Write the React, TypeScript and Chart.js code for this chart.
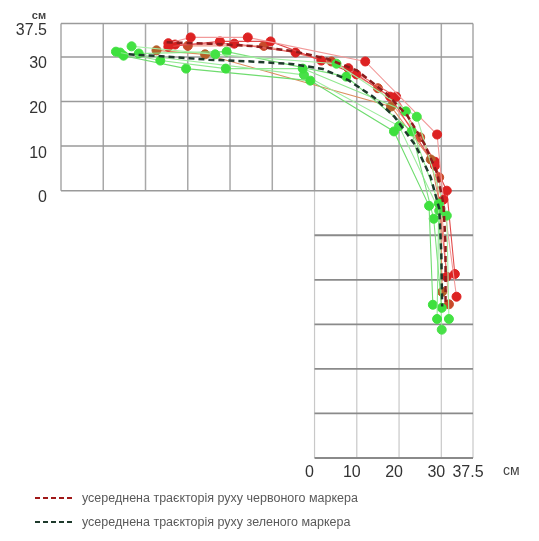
import React, { useEffect, useRef } from "react";
import { Chart, registerables } from "chart.js";

Chart.register(...registerables);

// ---- axes / grid ----
const xTicks = [0, 10, 20, 30, 37.5];
const yTicks = [0, 10, 20, 30, 37.5];
const xMin = -60;
const xMax = 37.5;
const yMin = -60;
const yMax = 37.5;
const upperGridX = [-60, -50, -40, -30, -20, -10, 0, 10, 20, 30, 37.5];
const upperGridY = [0, 10, 20, 30, 37.5];
const lowerGridX = [0, 10, 20, 30, 37.5];
const lowerGridY = [-10, -20, -30, -40, -50, -60];
const unitLabel = "см";

const legendLabels = [
  "усереднена траєкторія руху червоного маркера",
  "усереднена траєкторія руху зеленого маркера",
];

// ---- red marker trajectories (cm) ----
const red1: [number, number][] = [[-34.6, 33.1], [-29.3, 34.4], [-15.8, 34.4], [12, 29], [29, 12.6], [30.5, -2], [33.6, -23.8]];
const red2: [number, number][] = [[-34.6, 32.3], [-22.4, 33.5], [-10.4, 33.5], [1.6, 29.2], [9.9, 26.1], [17.9, 21.1], [28.5, 5.6], [31.3, 0], [33.2, -18.7]];
const red3: [number, number][] = [[-37.4, 31.5], [-25.9, 30.6], [18.1, 18.9], [27.5, 7], [29.8, -4], [30.2, -22.7]];
const red4: [number, number][] = [[-33, 32.8], [-19, 33], [-4.5, 31.0], [8, 27.5], [19.3, 21.1], [28.5, 6.5], [31.3, -19.3]];
const red5: [number, number][] = [[-30, 32.5], [-12, 32.5], [4, 29], [15, 23], [25, 12], [29.5, 3], [31.8, -25.5]];

// ---- green marker trajectories (cm) ----
const green1: [number, number][] = [[-47, 31.2], [-36.5, 29.2], [-21, 27.4], [-2.8, 27.4], [21.6, 17.8], [29.4, -2.9], [29, -28.8]];
const green2: [number, number][] = [[-45.2, 30.3], [-30.4, 27.4], [-1, 24.7], [18.8, 13.3], [27.1, -3.4], [28, -25.6]];
const green3: [number, number][] = [[-43.3, 32.4], [-23.5, 30.6], [5.2, 28.5], [24.2, 16.6], [31.3, -5.6], [31.8, -28.8]];
const green4: [number, number][] = [[-41.6, 30.8], [-20.8, 31.2], [7.5, 25.6], [23, 13.3], [28.2, -6.3], [30.1, -26.3]];
const green5: [number, number][] = [[-46, 31], [-2.5, 26], [20, 14.5], [29.5, -4.5], [30.1, -31.2]];

// ---- averaged trajectories ----
const redAvg: [number, number][] = [[-35, 33.3], [-25, 33], [-15, 32.5], [-5, 31.3], [3, 29.6], [10, 27], [17, 21.8], [22, 16.8], [26, 10.5], [29, 4], [30.5, -3], [31, -12], [31, -25]];
const greenAvg: [number, number][] = [[-44, 30.6], [-35, 30.1], [-25, 29.4], [-15, 29], [-5, 28.4], [2, 27.3], [8, 24.8], [14, 21], [19, 16.5], [24, 10], [27.5, 3], [29.5, -4], [30, -14], [30.2, -26]];

const toXY = (a: [number, number][]) => a.map(([x, y]) => ({ x, y }));

const redTracks = [
  { data: red1, line: "#f29a9a", point: "#dd2222" },
  { data: red2, line: "#e24a4a", point: "#dd2222" },
  { data: red3, line: "#dc9060", point: "#b5602a" },
  { data: red4, line: "#ec6a6a", point: "#d82020" },
  { data: red5, line: "#f0a08a", point: "#c84a2a" },
];
const greenTracks = [
  { data: green1, line: "#8fe88f", point: "#3ee03e" },
  { data: green2, line: "#6fdc6f", point: "#3ee03e" },
  { data: green3, line: "#a5f0a5", point: "#44e244" },
  { data: green4, line: "#7ee27e", point: "#3ee03e" },
  { data: green5, line: "#9cec9c", point: "#48e048" },
];

const gridPlugin = {
  id: "lgrid",
  beforeDatasetsDraw(chart: any) {
    const { ctx, scales } = chart;
    const xs = scales.x;
    const ys = scales.y;
    const px = (v: number) => xs.getPixelForValue(v);
    const py = (v: number) => ys.getPixelForValue(v);
    ctx.save();
    upperGridX.forEach((v) => {
      ctx.beginPath();
      ctx.strokeStyle = "#a8a8a8";
      ctx.lineWidth = 1.5;
      ctx.moveTo(px(v), py(0));
      ctx.lineTo(px(v), py(yMax));
      ctx.stroke();
    });
    lowerGridX.forEach((v) => {
      ctx.beginPath();
      ctx.strokeStyle = "#c8c8c8";
      ctx.lineWidth = 1.2;
      ctx.moveTo(px(v), py(yMin));
      ctx.lineTo(px(v), py(0));
      ctx.stroke();
    });
    upperGridY.forEach((v) => {
      ctx.beginPath();
      ctx.strokeStyle = "#9a9a9a";
      ctx.lineWidth = 1.5;
      ctx.moveTo(px(xMin), py(v));
      ctx.lineTo(px(xMax), py(v));
      ctx.stroke();
    });
    lowerGridY.forEach((v) => {
      ctx.beginPath();
      ctx.strokeStyle = "#8a8a8a";
      ctx.lineWidth = 1.8;
      ctx.moveTo(px(0), py(v));
      ctx.lineTo(px(xMax), py(v));
      ctx.stroke();
    });
    ctx.restore();
  },
  afterDraw(chart: any) {
    const { ctx, scales } = chart;
    const xs = scales.x;
    const ys = scales.y;
    ctx.save();
    ctx.fillStyle = "#444";
    ctx.font = "bold 11px Arial, 'Liberation Sans', sans-serif";
    ctx.textAlign = "center";
    ctx.textBaseline = "middle";
    ctx.fillText(unitLabel, 39, ys.getPixelForValue(yMax) - 8);
    ctx.font = "14px Arial, 'Liberation Sans', sans-serif";
    ctx.textAlign = "left";
    ctx.fillText(unitLabel, xs.getPixelForValue(xMax) + 30, ys.bottom + 13);
    ctx.restore();
  },
};

export default function App() {
  const ref = useRef<HTMLCanvasElement>(null);

  useEffect(() => {
    if (!ref.current) return;
    const datasets: any[] = [];
    redTracks.forEach((t, i) =>
      datasets.push({
        label: "red" + i,
        data: toXY(t.data),
        showLine: true,
        borderColor: t.line,
        borderWidth: 1.1,
        pointRadius: 4.5,
        pointBackgroundColor: t.point,
        pointBorderColor: t.point,
        pointBorderWidth: 1,
        order: 3,
      })
    );
    greenTracks.forEach((t, i) =>
      datasets.push({
        label: "green" + i,
        data: toXY(t.data),
        showLine: true,
        borderColor: t.line,
        borderWidth: 1.1,
        pointRadius: 4.5,
        pointBackgroundColor: t.point,
        pointBorderColor: t.point,
        pointBorderWidth: 1,
        order: 2,
      })
    );
    datasets.push({
      label: legendLabels[0],
      data: toXY(redAvg),
      showLine: true,
      borderColor: "#8e1c1c",
      borderWidth: 2.5,
      borderDash: [6, 4],
      pointRadius: 0,
      order: 1,
    });
    datasets.push({
      label: legendLabels[1],
      data: toXY(greenAvg),
      showLine: true,
      borderColor: "#1e3a2c",
      borderWidth: 2.5,
      borderDash: [6, 4],
      pointRadius: 0,
      order: 0,
    });

    const chart = new Chart(ref.current, {
      type: "scatter",
      data: { datasets },
      plugins: [gridPlugin],
      options: {
        animation: false,
        responsive: false,
        events: [],
        layout: { padding: { top: 23, right: 66, left: 0, bottom: 0 } },
        plugins: { legend: { display: false }, tooltip: { enabled: false } },
        scales: {
          x: {
            type: "linear",
            position: "bottom",
            min: xMin,
            max: xMax,
            afterBuildTicks: (s: any) => {
              s.ticks = xTicks.map((v) => ({ value: v }));
            },
            afterFit: (s: any) => {
              s.height = 83;
            },
            grid: { display: false, drawTicks: false },
            border: { display: false },
            ticks: {
              autoSkip: false,
              maxRotation: 0,
              padding: 5,
              labelOffset: -5,
              color: "#333",
              font: { size: 16, family: "Arial, 'Liberation Sans', sans-serif" },
              callback: (v: any) => String(v),
            },
          },
          y: {
            type: "linear",
            position: "left",
            min: yMin,
            max: yMax,
            afterBuildTicks: (s: any) => {
              s.ticks = yTicks.map((v) => ({ value: v }));
            },
            afterFit: (s: any) => {
              s.width = 61;
            },
            grid: { display: false, drawTicks: false },
            border: { display: false },
            ticks: {
              autoSkip: false,
              padding: 14,
              labelOffset: 7,
              color: "#333",
              font: { size: 16, family: "Arial, 'Liberation Sans', sans-serif" },
              callback: (v: any) => String(v),
            },
          },
        },
      },
    } as any);
    return () => chart.destroy();
  }, []);

  const legendColors = ["#a01818", "#1e3a2c"];

  return (
    <div style={{ position: "absolute", left: 0, top: 0, width: 539, height: 541, background: "#fff" }}>
      <canvas ref={ref} width={539} height={541} style={{ display: "block", width: 539, height: 541 }} />
      <div
        style={{
          position: "absolute",
          left: 35,
          top: 486,
          fontFamily: "Arial, 'Liberation Sans', sans-serif",
          fontSize: 12.5,
          color: "#5a5a5a",
        }}
      >
        {legendLabels.map((t, i) => (
          <div key={i} style={{ display: "flex", alignItems: "center", height: 24 }}>
            <svg width={40} height={4} style={{ marginRight: 7 }}>
              <line x1={0} y1={2} x2={40} y2={2} stroke={legendColors[i]} strokeWidth={2} strokeDasharray="5 3" />
            </svg>
            <span>{t}</span>
          </div>
        ))}
      </div>
    </div>
  );
}
